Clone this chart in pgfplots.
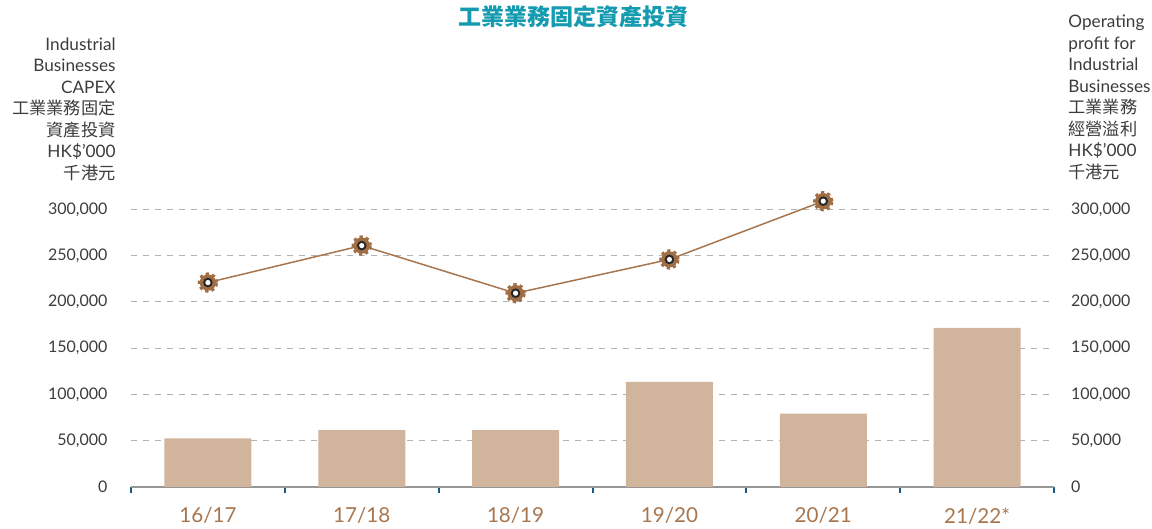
\documentclass[border=0pt]{standalone}
\usepackage{pgfplots}
\pgfplotsset{compat=1.18}
\usepackage{fontspec}
\setmainfont{Lato}
\newfontfamily\cjk{Noto Sans CJK TC}
\definecolor{barc}{RGB}{208,180,156}
\definecolor{linec}{RGB}{168,118,78}
\definecolor{gearc}{RGB}{160,110,68}
\definecolor{txt}{RGB}{60,60,60}
\definecolor{catc}{RGB}{168,118,78}
\definecolor{titlec}{RGB}{20,155,175}
\definecolor{tickc}{RGB}{20,90,130}
\definecolor{axc}{RGB}{150,150,150}

\pgfdeclareplotmark{gear}{%
  \pgfsetdash{}{0pt}%
  \pgfpathcircle{\pgfpointorigin}{4.1pt}%
  \pgfsetfillcolor{gearc}\pgfusepath{fill}%
  \pgfsetdash{{1.6pt}{1.6pt}}{0pt}%
  \pgfsetlinewidth{1.4pt}%
  \pgfsetstrokecolor{gearc}%
  \pgfpathcircle{\pgfpointorigin}{4.4pt}\pgfusepath{stroke}%
  \pgfsetdash{}{0pt}%
  \pgfpathcircle{\pgfpointorigin}{2.4pt}%
  \pgfsetfillcolor{black!85}\pgfusepath{fill}%
  \pgfpathcircle{\pgfpointorigin}{1.3pt}%
  \pgfsetfillcolor{white}\pgfusepath{fill}%
}

\begin{document}
\begin{tikzpicture}
\pgfplotsset{common/.style={
  scale only axis, width=461.5pt, height=148pt,
  xmin=-0.5, xmax=5.5, ymin=0, ymax=320000,
  ytick={0,50000,100000,150000,200000,250000,300000},
  scaled y ticks=false,
  /pgf/number format/assume math mode=true,
  /pgf/number format/1000 sep={,},
  /pgf/number format/fixed,
  yticklabel style={font=\fontsize{8}{10}\selectfont, text=txt},
  ytick style={draw=none},
  y axis line style={draw=none},
}}
\path[use as bounding box] (-65.5pt,-21pt) rectangle (510.5pt,243.5pt);
\begin{axis}[common,
  axis x line*=bottom, axis y line*=left,
  x axis line style={axc, line width=1pt},
  ymajorgrids, grid style={dashed, gray!60, line width=0.5pt},
  xtick={0,1,2,3,4,5},
  xticklabels={16/17,17/18,18/19,19/20,20/21,21/22*},
  major x tick style={draw=none},
  minor xtick={-0.5,0.5,1.5,2.5,3.5,4.5,5.5},
  minor tick length=3pt, tick align=outside,
  minor x tick style={tickc, line width=1pt},
  xticklabel style={font=\fontsize{10.3}{12}\selectfont, text=catc, yshift=-2.5pt},
  yticklabel style={xshift=-4pt},
]
\addplot[ybar, bar width=43.5pt, fill=barc, draw=none] coordinates {
  (0,52500) (1,61500) (2,61500) (3,113700) (4,79200) (5,171900)};
\end{axis}
\begin{axis}[common,
  axis x line=none, axis y line*=right,
  yticklabel style={xshift=5pt},
]
\addplot[linec, line width=0.75pt, mark=gear] coordinates {
  (0,221000) (1,261000) (2,209500) (3,246000) (4,309000)};
\end{axis}
\node[anchor=center, text=titlec, font=\cjk\bfseries\fontsize{11.5}{13}\selectfont] at (221pt,235pt) {工業業務固定資產投資};
\node[anchor=north east, align=right, text=txt, inner sep=0pt, font=\fontsize{8.6}{10.75}\selectfont] at (-7.5pt,225pt)
  {Industrial\\Businesses\\CAPEX\\{\cjk 工業業務固定}\\{\cjk 資產投資}\\HK\$’000\\{\cjk 千港元}};
\node[anchor=north west, align=left, text=txt, inner sep=0pt, font=\fontsize{8.6}{10.75}\selectfont] at (468.5pt,236pt)
  {Operating\\profit for\\Industrial\\Businesses\\{\cjk 工業業務}\\{\cjk 經營溢利}\\HK\$’000\\{\cjk 千港元}};
\end{tikzpicture}
\end{document}
